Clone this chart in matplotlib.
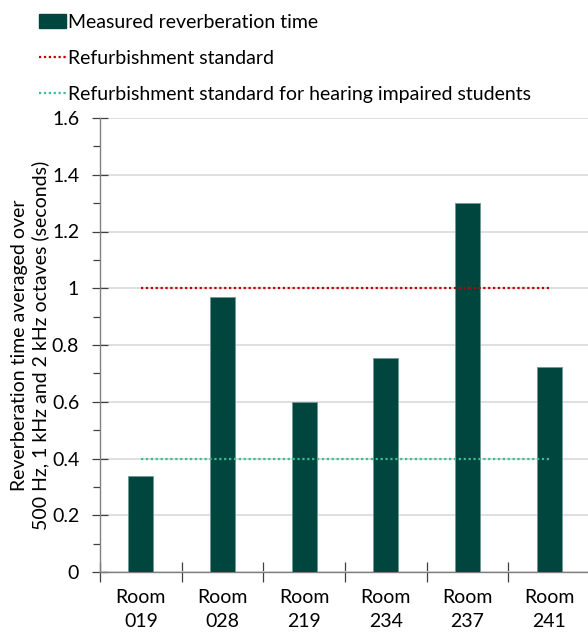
import matplotlib
matplotlib.use("Agg")
import matplotlib.pyplot as plt
from matplotlib.patches import Patch
from matplotlib.lines import Line2D
from matplotlib.ticker import MultipleLocator

plt.rcParams['font.family'] = ['Lato', 'DejaVu Sans']

rooms = ["Room\n019", "Room\n028", "Room\n219", "Room\n234", "Room\n237", "Room\n241"]
measured = [0.34, 0.97, 0.598, 0.754, 1.30, 0.724]
standard = [1.0] * 6
standard_hi = [0.4] * 6

bar_color = "#01453F"
red = "#C00000"
green = "#3DBE90"
FS = 14

fig = plt.figure(figsize=(5.88, 6.33), dpi=100)
ax = fig.add_axes([100/588, 1-572/633, 490/588, (572-118)/633])

x = list(range(len(rooms)))
ax.bar(x, measured, width=0.31, color=bar_color, edgecolor="#6f9a95", linewidth=0.6, zorder=3)
ax.plot(x, standard, linestyle=(0, (1, 1.2)), color=red, linewidth=1.6, zorder=4)
ax.plot(x, standard_hi, linestyle=(0, (1, 1.2)), color=green, linewidth=1.6, zorder=4)

ax.set_xlim(-0.5, len(rooms) - 0.5)
ax.set_ylim(0, 1.6)
ax.yaxis.set_minor_locator(MultipleLocator(0.1))
ax.set_yticks([0, 0.2, 0.4, 0.6, 0.8, 1.0, 1.2, 1.4, 1.6])
ax.set_yticklabels(["0", "0.2", "0.4", "0.6", "0.8", "1", "1.2", "1.4", "1.6"])
ax.grid(axis='y', color="#d9d9d9", linewidth=1.2, zorder=0)
ax.set_axisbelow(True)

ax.set_xticks([i - 0.5 for i in range(len(rooms) + 1)], minor=True)
ax.set_xticks(x)
ax.set_xticklabels(rooms, fontsize=FS, linespacing=1.5)
ax.tick_params(axis='x', which='major', length=0, pad=12)
ax.tick_params(axis='x', which='minor', length=14, direction='inout', color="#404040", width=0.9)
ax.tick_params(axis='y', which='major', length=11, direction='inout', labelsize=FS, pad=9.5, color="#404040", width=0.9)
ax.tick_params(axis='y', which='minor', length=5, direction='out', color="#404040", width=0.9)

for s in ['top', 'right']:
    ax.spines[s].set_visible(False)
for s in ['left', 'bottom']:
    ax.spines[s].set_color("#808080")
    ax.spines[s].set_linewidth(1.0)

ax.set_ylabel("Reverberation time averaged over\n500 Hz, 1 kHz and 2 kHz octaves (seconds)",
              fontsize=FS, labelpad=2, linespacing=1.2)

handles = [
    Patch(facecolor=bar_color, edgecolor=bar_color),
    Line2D([0], [0], color=red, linestyle=(0, (1, 1.2)), linewidth=1.6),
    Line2D([0], [0], color=green, linestyle=(0, (1, 1.2)), linewidth=1.6),
]
labels = ["Measured reverberation time", "Refurbishment standard",
          "Refurbishment standard for hearing impaired students"]
fig.legend(handles, labels, loc="upper left", bbox_to_anchor=(39/588, 1 - 14/633),
           frameon=False, fontsize=FS, handlelength=1.4, handleheight=0.7,
           handletextpad=0.1, labelspacing=0.98, borderaxespad=0, borderpad=0)

fig.savefig("out.png", dpi=100)
